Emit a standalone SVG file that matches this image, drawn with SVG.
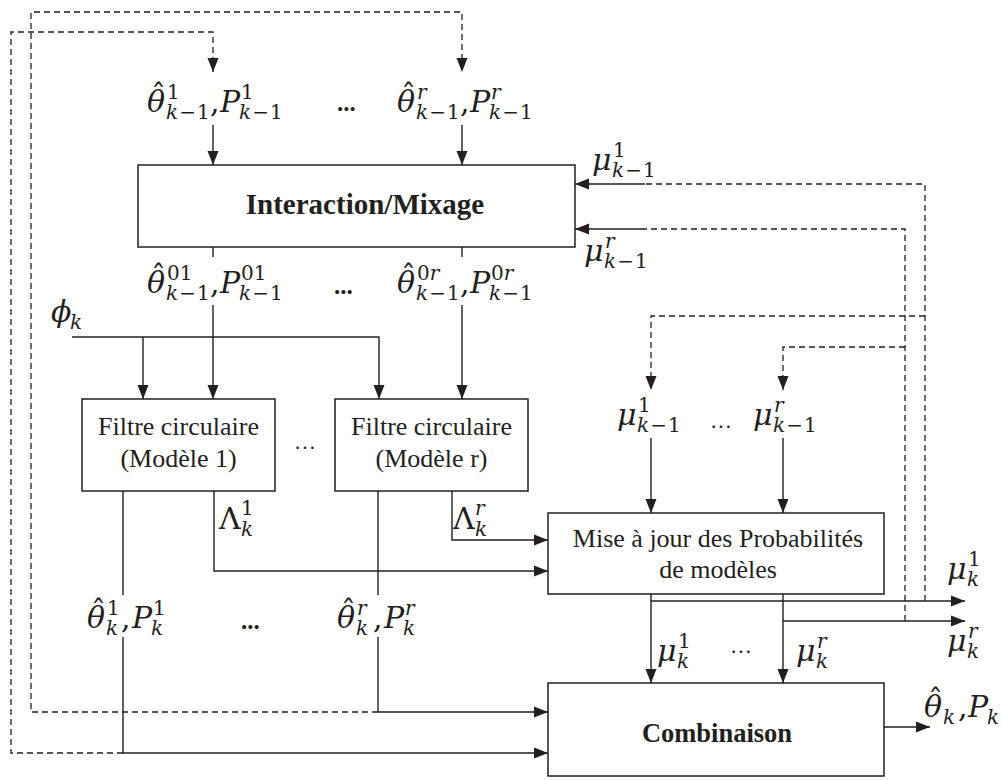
<svg xmlns="http://www.w3.org/2000/svg" width="1003" height="781" viewBox="0 0 1003 781">
<style>
.ln{stroke:#231f20;stroke-width:1.4;fill:none}
.ds{stroke:#231f20;stroke-width:1.3;fill:none;stroke-dasharray:6 4}
.box{fill:#fff;stroke:#231f20;stroke-width:1.5}
.t{font-family:"Liberation Serif",serif;font-size:26px;fill:#231f20;text-anchor:middle}
.tb{font-family:"Liberation Serif",serif;font-size:29px;font-weight:bold;fill:#231f20;text-anchor:middle}
.m{font-family:"DejaVu Serif",serif;font-style:italic;font-size:30px;fill:#231f20}
.u{font-style:normal}
.sc{font-size:20px}
.dots{font-family:"Liberation Serif",serif;font-size:25px;font-weight:bold;fill:#231f20}
.el{font-family:"Liberation Serif",serif;font-size:22px;fill:#231f20}
</style>
<defs>
<marker id="a" markerWidth="14" markerHeight="12" refX="14" refY="6" orient="auto" markerUnits="userSpaceOnUse"><path d="M0,0.5 L14,6 L0,11.5 z" fill="#231f20"/></marker>
</defs>

<g id="connectors">
  <path class="ds" d="M123,753 H11 V32 H213 V72" marker-end="url(#a)"/>
  <path class="ds" d="M378,712 H31 V12 H462 V72" marker-end="url(#a)"/>
  <path class="ln" d="M213,125 V165" marker-end="url(#a)"/>
  <path class="ln" d="M462,125 V165" marker-end="url(#a)"/>
  <path class="ln" d="M213,247 V257 M462,247 V257"/>
  <path class="ln" d="M213,305 V399" marker-end="url(#a)"/>
  <path class="ln" d="M462,305 V399" marker-end="url(#a)"/>
  <path class="ln" d="M72,337 H379 V399" marker-end="url(#a)"/>
  <path class="ln" d="M143,337 V399" marker-end="url(#a)"/>
  <path class="ln" d="M123,491 V595 M378,491 V595"/>
  <path class="ln" d="M123,637 V753 H548" marker-end="url(#a)"/>
  <path class="ln" d="M378,637 V712 H548" marker-end="url(#a)"/>
  <path class="ln" d="M214,491 V571 H548" marker-end="url(#a)"/>
  <path class="ln" d="M452,491 V540 H548" marker-end="url(#a)"/>
  <path class="ln" d="M651,438 V513" marker-end="url(#a)"/>
  <path class="ln" d="M783,438 V513" marker-end="url(#a)"/>
  <path class="ln" d="M651,594 V683" marker-end="url(#a)"/>
  <path class="ln" d="M783,594 V683" marker-end="url(#a)"/>
  <path class="ln" d="M651,601 H965" marker-end="url(#a)"/>
  <path class="ln" d="M783,621 H965" marker-end="url(#a)"/>
  <path class="ds" d="M925,601 V184 H645"/>
  <path class="ln" d="M645,184 H575" marker-end="url(#a)"/>
  <path class="ds" d="M905,621 V229 H645"/>
  <path class="ln" d="M645,229 H575" marker-end="url(#a)"/>
  <path class="ds" d="M925,316 H651 V390" marker-end="url(#a)"/>
  <path class="ds" d="M905,347 H783 V390" marker-end="url(#a)"/>
  <path class="ln" d="M884,727 H930" marker-end="url(#a)"/>
</g>

<g id="interaction">
  <rect class="box" x="138" y="165" width="437" height="82"/>
  <text class="tb" x="365" y="214">Interaction/Mixage</text>
</g>
<g id="filtre1">
  <rect class="box" x="82" y="399" width="193" height="92"/>
  <text class="t" x="178.5" y="435">Filtre circulaire</text>
  <text class="t" x="178.5" y="467">(Modèle 1)</text>
</g>
<g id="filtrer">
  <rect class="box" x="335" y="399" width="193" height="92"/>
  <text class="t" x="431.5" y="435">Filtre circulaire</text>
  <text class="t" x="431.5" y="467">(Modèle r)</text>
</g>
<g id="miseajour">
  <rect class="box" x="548" y="513" width="336" height="81"/>
  <text class="t" x="718" y="547">Mise à jour des Probabilités</text>
  <text class="t" x="718" y="578">de modèles</text>
</g>
<g id="combinaison">
  <rect class="box" x="548" y="683" width="336" height="93"/>
  <text class="tb" x="717" y="742" style="font-size:26.5px">Combinaison</text>
</g>

<g id="labels">
  <g transform="translate(147,112)"><text class="m"><tspan x="0" y="0">θ</tspan><tspan class="u" x="4" y="-7">ˆ</tspan><tspan class="sc u" x="20" y="-13">1</tspan><tspan class="sc" x="19" y="7">k<tspan class="u" dx="1">−</tspan><tspan class="u" dx="1">1</tspan></tspan><tspan class="u" x="63" y="0">,</tspan><tspan x="73" y="0">P</tspan><tspan class="sc u" x="94" y="-13">1</tspan><tspan class="sc" x="92" y="7">k<tspan class="u" dx="1">−</tspan><tspan class="u" dx="1">1</tspan></tspan></text></g>
  <text class="dots" x="337" y="111">...</text>
  <g transform="translate(397,112)"><text class="m"><tspan x="0" y="0">θ</tspan><tspan class="u" x="4" y="-7">ˆ</tspan><tspan class="sc" x="20" y="-13">r</tspan><tspan class="sc" x="19" y="7">k<tspan class="u" dx="1">−</tspan><tspan class="u" dx="1">1</tspan></tspan><tspan class="u" x="63" y="0">,</tspan><tspan x="73" y="0">P</tspan><tspan class="sc" x="94" y="-13">r</tspan><tspan class="sc" x="92" y="7">k<tspan class="u" dx="1">−</tspan><tspan class="u" dx="1">1</tspan></tspan></text></g>
  <g transform="translate(592,170)"><text class="m"><tspan x="0" y="0">μ</tspan><tspan class="sc u" x="21" y="-13">1</tspan><tspan class="sc" x="20" y="7">k<tspan class="u" dx="1">−</tspan><tspan class="u" dx="1">1</tspan></tspan></text></g>
  <g transform="translate(584,261)"><text class="m"><tspan x="0" y="0">μ</tspan><tspan class="sc" x="21" y="-13">r</tspan><tspan class="sc" x="20" y="7">k<tspan class="u" dx="1">−</tspan><tspan class="u" dx="1">1</tspan></tspan></text></g>
  <g transform="translate(147,293)"><text class="m"><tspan x="0" y="0">θ</tspan><tspan class="u" x="4" y="-7">ˆ</tspan><tspan class="sc u" x="20" y="-13">01</tspan><tspan class="sc" x="19" y="7">k<tspan class="u" dx="1">−</tspan><tspan class="u" dx="1">1</tspan></tspan><tspan class="u" x="63" y="0">,</tspan><tspan x="73" y="0">P</tspan><tspan class="sc u" x="94" y="-13">01</tspan><tspan class="sc" x="92" y="7">k<tspan class="u" dx="1">−</tspan><tspan class="u" dx="1">1</tspan></tspan></text></g>
  <text class="dots" x="334" y="294">...</text>
  <g transform="translate(397,293)"><text class="m"><tspan x="0" y="0">θ</tspan><tspan class="u" x="4" y="-7">ˆ</tspan><tspan class="sc u" x="20" y="-13">0<tspan font-style="italic">r</tspan></tspan><tspan class="sc" x="19" y="7">k<tspan class="u" dx="1">−</tspan><tspan class="u" dx="1">1</tspan></tspan><tspan class="u" x="63" y="0">,</tspan><tspan x="73" y="0">P</tspan><tspan class="sc u" x="94" y="-13">0<tspan font-style="italic">r</tspan></tspan><tspan class="sc" x="92" y="7">k<tspan class="u" dx="1">−</tspan><tspan class="u" dx="1">1</tspan></tspan></text></g>
  <g transform="translate(51,322)"><text class="m"><tspan x="0" y="0">ϕ</tspan><tspan class="sc" x="19" y="7">k</tspan></text></g>
  <text class="el" x="294" y="449">…</text>
  <g transform="translate(219,529)"><text class="m"><tspan class="u" x="0" y="0">Λ</tspan><tspan class="sc u" x="22" y="-14">1</tspan><tspan class="sc" x="22" y="7">k</tspan></text></g>
  <g transform="translate(453,529)"><text class="m"><tspan class="u" x="0" y="0">Λ</tspan><tspan class="sc" x="22" y="-14">r</tspan><tspan class="sc" x="22" y="7">k</tspan></text></g>
  <g transform="translate(617,425)"><text class="m"><tspan x="0" y="0">μ</tspan><tspan class="sc u" x="21" y="-13">1</tspan><tspan class="sc" x="20" y="7">k<tspan class="u" dx="1">−</tspan><tspan class="u" dx="1">1</tspan></tspan></text></g>
  <text class="el" x="710" y="428">…</text>
  <g transform="translate(753,425)"><text class="m"><tspan x="0" y="0">μ</tspan><tspan class="sc" x="21" y="-13">r</tspan><tspan class="sc" x="20" y="7">k<tspan class="u" dx="1">−</tspan><tspan class="u" dx="1">1</tspan></tspan></text></g>
  <g transform="translate(87,628)"><text class="m"><tspan x="0" y="0">θ</tspan><tspan class="u" x="4" y="-7">ˆ</tspan><tspan class="sc u" x="20" y="-13">1</tspan><tspan class="sc" x="19" y="7">k</tspan><tspan class="u" x="34" y="0">,</tspan><tspan x="45" y="0">P</tspan><tspan class="sc u" x="66" y="-13">1</tspan><tspan class="sc" x="64" y="7">k</tspan></text></g>
  <text class="dots" x="241" y="629">...</text>
  <g transform="translate(337,628)"><text class="m"><tspan x="0" y="0">θ</tspan><tspan class="u" x="4" y="-7">ˆ</tspan><tspan class="sc" x="20" y="-13">r</tspan><tspan class="sc" x="19" y="7">k</tspan><tspan class="u" x="36" y="0">,</tspan><tspan x="47" y="0">P</tspan><tspan class="sc" x="68" y="-13">r</tspan><tspan class="sc" x="66" y="7">k</tspan></text></g>
  <g transform="translate(657,661)"><text class="m"><tspan x="0" y="0">μ</tspan><tspan class="sc u" x="21" y="-13">1</tspan><tspan class="sc" x="20" y="7">k</tspan></text></g>
  <text class="el" x="730" y="653">…</text>
  <g transform="translate(796,661)"><text class="m"><tspan x="0" y="0">μ</tspan><tspan class="sc" x="21" y="-13">r</tspan><tspan class="sc" x="20" y="7">k</tspan></text></g>
  <g transform="translate(947,579)"><text class="m"><tspan x="0" y="0">μ</tspan><tspan class="sc u" x="21" y="-13">1</tspan><tspan class="sc" x="20" y="7">k</tspan></text></g>
  <g transform="translate(947,651)"><text class="m"><tspan x="0" y="0">μ</tspan><tspan class="sc" x="21" y="-13">r</tspan><tspan class="sc" x="20" y="7">k</tspan></text></g>
  <g transform="translate(924,717)"><text class="m"><tspan x="0" y="0">θ</tspan><tspan class="u" x="4" y="-7">ˆ</tspan><tspan class="sc" x="19" y="7">k</tspan><tspan class="u" x="34" y="0">,</tspan><tspan x="44" y="0">P</tspan><tspan class="sc" x="63" y="7">k</tspan></text></g>
</g>
</svg>
